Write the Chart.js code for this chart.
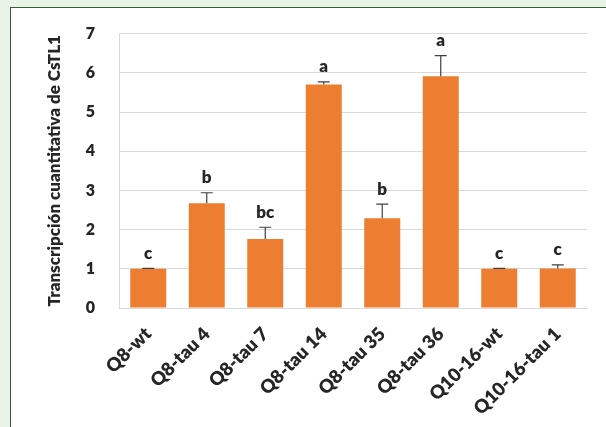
<!DOCTYPE html>
<html>
<head>
<meta charset="utf-8">
<script src="https://cdn.jsdelivr.net/npm/chart.js@4.4.1/dist/chart.umd.min.js"></script>
<style>
  html, body { margin: 0; padding: 0; }
  body { width: 606px; height: 427px; background: #e9f3e6; position: relative; overflow: hidden; }
  #frame { position: absolute; left: 10px; top: 7px; width: 620px; height: 440px;
           background: #ffffff; border: 1.5px solid #2f5e3b; box-sizing: border-box; }
  #wrap { position: absolute; left: 0; top: 0; width: 606px; height: 427px; }
</style>
</head>
<body>
<div id="frame"></div>
<div id="wrap"><canvas id="chart" width="606" height="427"></canvas></div>
<script>
// Relative transcription of CsTL1 per line
const categories = ['Q8-wt', 'Q8-tau 4', 'Q8-tau 7', 'Q8-tau 14', 'Q8-tau 35', 'Q8-tau 36', 'Q10-16-wt', 'Q10-16-tau 1'];
const means      = [1.00, 2.67, 1.76, 5.70, 2.29, 5.91, 1.00, 1.01];
const errors     = [0.01, 0.27, 0.30, 0.07, 0.36, 0.53, 0.01, 0.09];
const letters    = ['c', 'b', 'bc', 'a', 'b', 'a', 'c', 'c'];
const yTicks     = [0, 1, 2, 3, 4, 5, 6, 7];

const BAR = '#ED7D31';
const GRID = '#d9d9d9';
const TEXT = '#262626';
const FONT = 'Lato';
const WEIGHT = '800';

// Upper error whiskers plus the significance letters above each bar
const annotate = {
  id: 'annotate',
  afterDatasetsDraw(chart) {
    const ctx = chart.ctx;
    const y = chart.scales.y;
    const meta = chart.getDatasetMeta(0);
    ctx.save();
    meta.data.forEach((bar, i) => {
      const x = bar.x;
      const yMean = y.getPixelForValue(means[i]);
      const yTop = y.getPixelForValue(means[i] + errors[i]);
      ctx.strokeStyle = '#404040';
      ctx.lineWidth = 1.2;
      ctx.beginPath();
      ctx.moveTo(x, yMean);
      ctx.lineTo(x, yTop);
      ctx.moveTo(x - 6, yTop);
      ctx.lineTo(x + 6, yTop);
      ctx.stroke();
      ctx.fillStyle = TEXT;
      ctx.font = WEIGHT + ' 17px ' + FONT;
      ctx.textAlign = 'center';
      ctx.textBaseline = 'middle';
      ctx.fillText(letters[i], x, yTop - 15);
    });
    ctx.restore();
  }
};

new Chart(document.getElementById('chart'), {
  type: 'bar',
  data: {
    labels: categories,
    datasets: [{
      data: means,
      backgroundColor: BAR,
      borderWidth: 0,
      barPercentage: 0.615,
      categoryPercentage: 1.0
    }]
  },
  options: {
    responsive: false,
    animation: false,
    layout: { padding: { left: 38, right: 19, top: 33, bottom: 8 } },
    plugins: { legend: { display: false }, tooltip: { enabled: false } },
    scales: {
      x: {
        grid: { display: false, drawTicks: false },
        border: { display: true, color: GRID, width: 1 },
        ticks: {
          color: TEXT,
          font: { family: FONT, size: 18.5, weight: WEIGHT },
          minRotation: 45, maxRotation: 45, padding: 15, autoSkip: false
        },
        afterFit(s) { s.height = 111; s.paddingLeft = 0; s.paddingRight = 0; }
      },
      y: {
        min: 0, max: 7,
        afterBuildTicks(s) { s.ticks = yTicks.map(v => ({ value: v })); },
        grid: { color: GRID, lineWidth: 1, drawTicks: false },
        border: { display: true, color: GRID, width: 1 },
        ticks: {
          color: TEXT,
          font: { family: FONT, size: 16, weight: WEIGHT },
          padding: 24
        },
        title: {
          display: true,
          text: 'Transcripción cuantitativa de CsTL1',
          color: TEXT,
          font: { family: FONT, size: 17, weight: WEIGHT },
          padding: { top: 6, bottom: 0 }
        },
        afterFit(s) { s.width = 81; }
      }
    }
  },
  plugins: [annotate]
});
</script>
</body>
</html>
